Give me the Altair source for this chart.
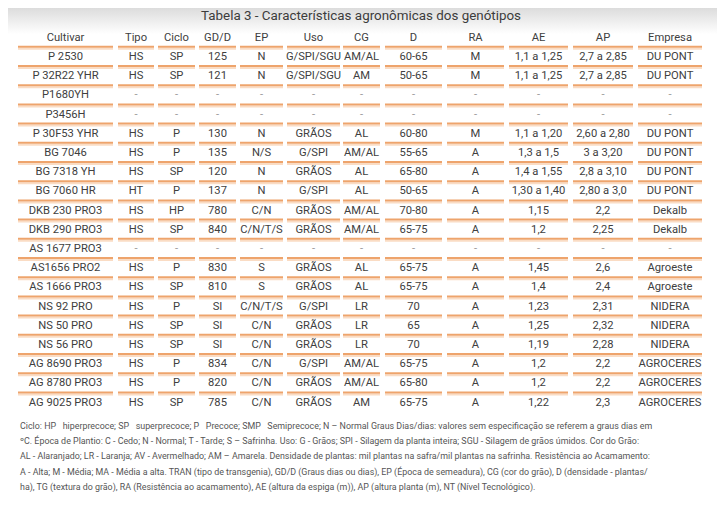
import altair as alt
import pandas as pd

# ---------------- data ----------------
title_text = "Tabela 3 - Características agronômicas dos genótipos"
headers = ["Cultivar", "Tipo", "Ciclo", "GD/D", "EP", "Uso", "CG", "D", "RA", "AE", "AP", "Empresa"]

cultivar = ["P 2530", "P 32R22 YHR", "P1680YH", "P3456H", "P 30F53 YHR", "BG 7046", "BG 7318 YH",
            "BG 7060 HR", "DKB 230 PRO3", "DKB 290 PRO3", "AS 1677 PRO3", "AS1656 PRO2",
            "AS 1666 PRO3", "NS 92 PRO", "NS 50 PRO", "NS 56 PRO", "AG 8690 PRO3",
            "AG 8780 PRO3", "AG 9025 PRO3"]
tipo = ["HS", "HS", "-", "-", "HS", "HS", "HS", "HT", "HS", "HS", "-", "HS", "HS", "HS", "HS", "HS",
        "HS", "HS", "HS"]
ciclo = ["SP", "SP", "-", "-", "P", "P", "SP", "P", "HP", "SP", "-", "P", "SP", "P", "SP", "SP",
         "P", "P", "SP"]
gdd = ["125", "121", "-", "-", "130", "135", "120", "137", "780", "840", "-", "830", "810", "SI",
       "SI", "SI", "834", "820", "785"]
ep = ["N", "N", "-", "-", "N", "N/S", "N", "N", "C/N", "C/N/T/S", "-", "S", "S", "C/N/T/S", "C/N",
      "C/N", "C/N", "C/N", "C/N"]
uso = ["G/SPI/SGU", "G/SPI/SGU", "-", "-", "GRÃOS", "G/SPI", "GRÃOS", "G/SPI", "GRÃOS", "GRÃOS",
       "-", "GRÃOS", "GRÃOS", "G/SPI", "GRÃOS", "GRÃOS", "G/SPI", "GRÃOS", "GRÃOS"]
cg = ["AM/AL", "AM", "-", "-", "AL", "AM/AL", "AL", "AL", "AM/AL", "AM/AL", "-", "AL", "AL", "LR",
      "LR", "LR", "AM/AL", "AM/AL", "AM"]
dens = ["60-65", "50-65", "-", "-", "60-80", "55-65", "65-80", "50-65", "70-80", "65-75", "-",
        "65-75", "65-75", "70", "65", "70", "65-75", "65-80", "65-75"]
ra = ["M", "M", "-", "-", "M", "A", "A", "A", "A", "A", "-", "A", "A", "A", "A", "A", "A", "A", "A"]
ae = ["1,1 a 1,25", "1,1 a 1,25", "-", "-", "1,1 a 1,20", "1,3 a 1,5", "1,4 a 1,55",
      "1,30 a 1,40", "1,15", "1,2", "-", "1,45", "1,4", "1,23", "1,25", "1,19", "1,2", "1,2", "1,22"]
ap = ["2,7 a 2,85", "2,7 a 2,85", "-", "-", "2,60 a 2,80", "3 a 3,20", "2,8 a 3,10",
      "2,80 a 3,0", "2,2", "2,25", "-", "2,6", "2,4", "2,31", "2,32", "2,28", "2,2", "2,2", "2,3"]
empresa = ["DU PONT", "DU PONT", "-", "-", "DU PONT", "DU PONT", "DU PONT", "DU PONT", "Dekalb",
           "Dekalb", "-", "Agroeste", "Agroeste", "NIDERA", "NIDERA", "NIDERA", "AGROCERES",
           "AGROCERES", "AGROCERES"]

notes = [
    "Ciclo: HP \u00a0 hiperprecoce; SP \u00a0 superprecoce; P \u00a0 Precoce; SMP \u00a0 Semiprecoce; N – Normal Graus Dias/dias: valores sem especificação se referem a graus dias em",
    "ºC. Época de Plantio: C - Cedo; N - Normal; T - Tarde; S – Safrinha. Uso: G - Grãos; SPI - Silagem da planta inteira; SGU - Silagem de grãos úmidos. Cor do Grão:",
    "AL - Alaranjado; LR - Laranja; AV - Avermelhado; AM – Amarela. Densidade de plantas: mil plantas na safra/mil plantas na safrinha. Resistência ao Acamamento:",
    "A - Alta; M - Média; MA - Média a alta. TRAN (tipo de transgenia), GD/D (Graus dias ou dias), EP (Época de semeadura), CG (cor do grão), D (densidade - plantas/",
    "ha), TG (textura do grão), RA (Resistência ao acamamento), AE (altura da espiga (m)), AP (altura planta (m), NT (Nível Tecnológico).",
]

# ---------------- layout / style ----------------
col_left = [18, 118, 158, 199, 240, 287, 343, 385, 447, 509, 573, 638]
col_right = [113, 154, 195, 236, 283, 340, 380, 442, 504, 568, 633, 702]
FONT = "Roboto"
W, H = 709, 490
ROW_H = 19.2
ROW0_Y = 57 - 8  # plot-space y of first data row
TEXT_COLOR = "#404040"

columns = [cultivar, tipo, ciclo, gdd, ep, uso, cg, dens, ra, ae, ap, empresa]

cells = []
for c, h in enumerate(headers):
    cells.append(dict(row=-1, col=c, text=h, dash=False))
for r in range(len(cultivar)):
    for c in range(len(headers)):
        v = columns[c][r]
        cells.append(dict(row=r, col=c, text=v, dash=(v == "-")))
cells_df = pd.DataFrame(cells)
cells_df["xc"] = [(col_left[c] + col_right[c]) / 2 for c in cells_df["col"]]

segs = []
for r in range(-1, len(cultivar) - 1):
    for c in range(len(headers)):
        segs.append(dict(row=r, xs=col_left[c], xe=col_right[c]))
segs_df = pd.DataFrame(segs)

r_top = -ROW0_Y / ROW_H
r_bot = (H - ROW0_Y) / ROW_H
xscale = alt.Scale(domain=[8, 8 + W], nice=False, zero=False)
yscale = alt.Scale(domain=[r_top, r_bot], reverse=True, nice=False, zero=False)

# background gradient at top
bg = alt.Chart(pd.DataFrame({"k": [0]})).mark_rect(
    color=alt.LinearGradient(
        gradient="linear",
        stops=[alt.GradientStop(color="#dcdcdc", offset=0), alt.GradientStop(color="#ffffff", offset=1)],
        x1=0, x2=0, y1=0, y2=1,
    )
).encode(x=alt.value(0), x2=alt.value(W), y=alt.value(0), y2=alt.value(26))

line_dark = alt.Chart(segs_df).mark_rule(color="#eea46c", strokeWidth=2, yOffset=9).encode(
    x=alt.X("xs:Q", scale=xscale, axis=None),
    x2="xe:Q",
    y=alt.Y("row:Q", scale=yscale, axis=None),
)
line_light = alt.Chart(segs_df).mark_rule(color="#fadcc4", strokeWidth=2, yOffset=11).encode(
    x=alt.X("xs:Q", scale=xscale, axis=None),
    x2="xe:Q",
    y=alt.Y("row:Q", scale=yscale, axis=None),
)

text = alt.Chart(cells_df).mark_text(
    font=FONT, fontSize=11.2, align="center", baseline="middle"
).encode(
    x=alt.X("xc:Q", scale=xscale, axis=None),
    y=alt.Y("row:Q", scale=yscale, axis=None),
    text="text:N",
    color=alt.condition("datum.dash", alt.value("#9a9a9a"), alt.value(TEXT_COLOR)),
)

title = alt.Chart(pd.DataFrame({"t": [title_text]})).mark_text(
    font=FONT, fontSize=13.4, align="center", baseline="middle", color="#3c3c3c"
).encode(x=alt.value(361 - 8), y=alt.value(16 - 8), text="t:N")

notes_df = pd.DataFrame({"line": list(range(len(notes))), "t": notes})
note_y0 = 426 - 8
NOTE_H = 15.2
notes_layer = alt.Chart(notes_df).mark_text(
    font=FONT, fontSize=8.9, align="left", baseline="middle", color="#555555"
).encode(
    x=alt.value(20 - 8),
    y=alt.Y("line:Q", scale=alt.Scale(domain=[-note_y0 / NOTE_H, (H - note_y0) / NOTE_H],
                                      reverse=True, nice=False, zero=False), axis=None),
    text="t:N",
)

chart = alt.layer(bg, line_light, line_dark, text, title, notes_layer).resolve_scale(
    y="independent"
).properties(
    width=W, height=H, padding=0, autosize=alt.AutoSizeParams(type="none"),
    background="white",
).configure_view(stroke=None)

chart.save("out.html", embed_options={"renderer": "svg", "actions": False})
